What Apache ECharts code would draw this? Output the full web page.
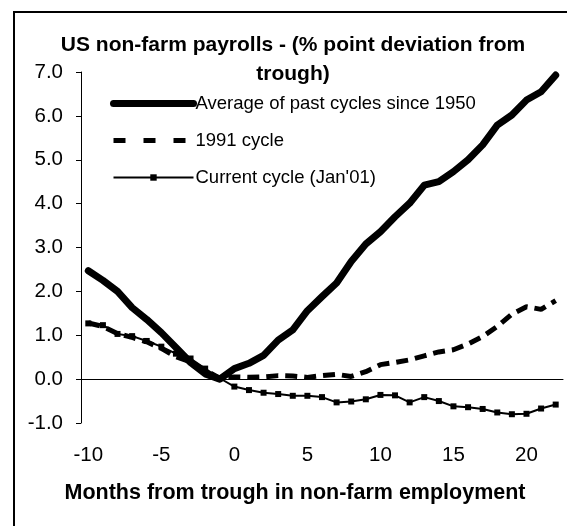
<!DOCTYPE html>
<html>
<head>
<meta charset="utf-8">
<script src="https://cdn.jsdelivr.net/npm/echarts@6/dist/echarts.min.js"></script>
<style>
  html, body { margin: 0; padding: 0; background: #fff; }
  #container { width: 567px; height: 526px; }
</style>
</head>
<body>
<div id="container"></div>
<script>
// months from trough
var months = [-10, -9, -8, -7, -6, -5, -4, -3, -2, -1, 0, 1, 2, 3, 4, 5, 6, 7, 8, 9, 10,
  11, 12, 13, 14, 15, 16, 17, 18, 19, 20, 21, 22];

var avgPast = [2.47, 2.25, 2.0, 1.63, 1.36, 1.06, 0.72, 0.38, 0.12, 0.0, 0.24, 0.36, 0.54,
  0.89, 1.12, 1.56, 1.88, 2.19, 2.68, 3.08, 3.36, 3.70, 4.01, 4.42, 4.50, 4.73, 5.0,
  5.34, 5.79, 6.02, 6.36, 6.55, 6.93];

var cycle1991 = [1.28, 1.2, 1.04, 0.95, 0.85, 0.7, 0.51, 0.39, 0.2, 0.02, 0.05, 0.04, 0.05,
  0.08, 0.07, 0.04, 0.08, 0.11, 0.06, 0.17, 0.33, 0.38, 0.44, 0.53, 0.62, 0.67, 0.80,
  0.97, 1.20, 1.48, 1.65, 1.59, 1.79];

var currentCycle = [1.27, 1.23, 1.03, 0.98, 0.87, 0.74, 0.58, 0.47, 0.24, 0.02, -0.17, -0.25,
  -0.31, -0.34, -0.38, -0.38, -0.41, -0.53, -0.51, -0.46, -0.36, -0.37, -0.53, -0.41,
  -0.50, -0.62, -0.64, -0.68, -0.76, -0.80, -0.79, -0.67, -0.58];

var font = 'Liberation Sans, Arial, sans-serif';
var noSymbol = { color: 'rgba(0,0,0,0)', borderWidth: 0 };

var myChart = echarts.init(document.getElementById('container'));

var options = {
  animation: false,
  backgroundColor: '#fff',
  textStyle: { fontFamily: font, color: '#000' },
  title: {
    text: 'US non-farm payrolls - (% point deviation from\ntrough)',
    left: 293,
    top: 31,
    textAlign: 'center',
    padding: 0,
    textStyle: { fontFamily: font, fontSize: 21, fontWeight: 'bold', color: '#000', lineHeight: 29 }
  },
  legend: {
    orient: 'vertical',
    left: 110,
    top: 94,
    padding: 0,
    itemWidth: 80,
    itemHeight: 8,
    itemGap: 18,
    textStyle: { fontFamily: font, fontSize: 18.5, color: '#000', padding: [0, 0, 0, -3] },
    data: [
      { name: 'Average of past cycles since 1950', itemStyle: noSymbol,
        lineStyle: { width: 7, cap: 'round', color: '#000' } },
      { name: '1991 cycle', itemStyle: noSymbol,
        lineStyle: { width: 5, type: [12, 18], color: '#000' } },
      { name: "Current cycle (Jan'01)", lineStyle: { width: 2, color: '#000' } }
    ]
  },
  grid: { left: 81, top: 72, right: 4, bottom: 103, containLabel: false, outerBoundsMode: 'none' },
  xAxis: {
    type: 'category',
    data: months,
    boundaryGap: true,
    axisLine: { onZero: true, lineStyle: { color: '#000', width: 1 } },
    axisTick: { interval: 4, length: 5, lineStyle: { color: '#000' } },
    axisLabel: { interval: 4, margin: 22, fontSize: 20.5, color: '#000', fontFamily: font },
    name: 'Months from trough in non-farm employment',
    nameLocation: 'middle',
    nameGap: 59,
    nameTextStyle: { fontSize: 21.5, fontWeight: 'bold', color: '#000', fontFamily: font, padding: [0, 54, 0, 0] },
    splitLine: { show: false }
  },
  yAxis: {
    type: 'value',
    min: -1,
    max: 7,
    interval: 1,
    axisLine: { show: true, lineStyle: { color: '#000', width: 1 } },
    axisTick: { show: true, length: 5, lineStyle: { color: '#000' } },
    axisLabel: {
      margin: 18, fontSize: 20.5, color: '#000', fontFamily: font,
      formatter: function (v) { return v.toFixed(1); }
    },
    splitLine: { show: false }
  },
  graphic: [{
    type: 'rect',
    shape: { x: 14, y: 12, width: 700, height: 700 },
    style: { fill: 'none', stroke: '#000', lineWidth: 2 },
    silent: true
  }],
  series: [{
    name: 'Average of past cycles since 1950',
    type: 'line',
    data: avgPast,
    symbol: 'none',
    color: '#000',
    lineStyle: { color: '#000', width: 7, cap: 'round', join: 'round' }
  }, {
    name: '1991 cycle',
    type: 'line',
    data: cycle1991,
    symbol: 'none',
    color: '#000',
    lineStyle: { color: '#000', width: 5, type: [12, 7] }
  }, {
    name: "Current cycle (Jan'01)",
    type: 'line',
    data: currentCycle,
    symbol: 'rect',
    symbolSize: 6,
    color: '#000',
    itemStyle: { color: '#000' },
    lineStyle: { color: '#000', width: 2 }
  }]
};

myChart.setOption(options);
</script>
</body>
</html>
